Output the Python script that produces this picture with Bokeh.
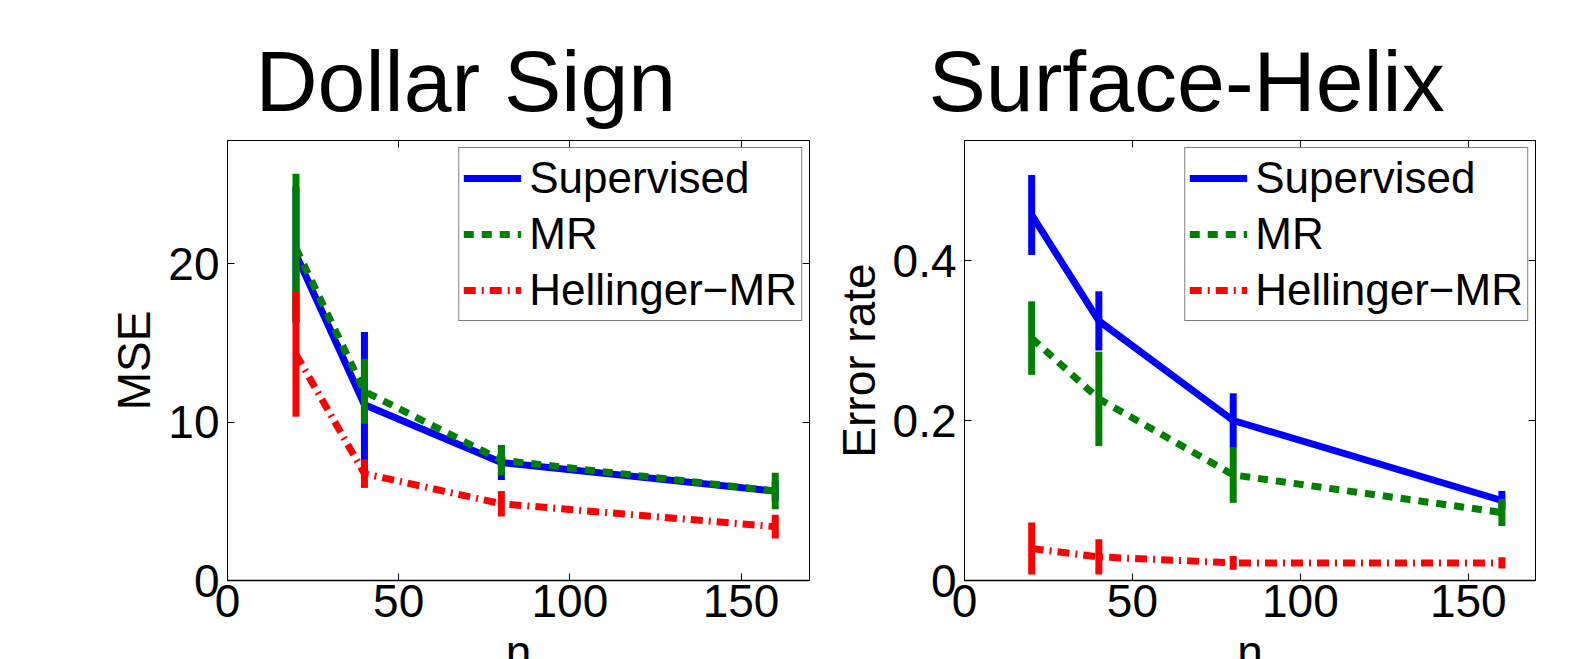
from bokeh.plotting import figure
from bokeh.layouts import row
from bokeh.models import Range1d, FixedTicker, LinearAxis
from bokeh.embed import file_html
from bokeh.resources import INLINE
import numpy as np

# ---- data ----
n = [20, 40, 80, 160]
series_names = ["Supervised", "MR", "Hellinger\u2212MR"]

# Dollar Sign (MSE)
ds_sup_mean = [20.6, 11.1, 7.45, 5.65]
ds_sup_err = [4.3, 4.6, 1.1, 0.65]
ds_mr_mean = [21.0, 11.95, 7.6, 5.65]
ds_mr_err = [4.7, 2.05, 0.95, 1.15]
ds_hel_mean = [14.3, 6.75, 4.85, 3.4]
ds_hel_err = [3.95, 0.9, 0.8, 0.75]

# Surface-Helix (Error rate)
sh_sup_mean = [0.457, 0.3245, 0.2, 0.1]
sh_sup_err = [0.05, 0.037, 0.034, 0.012]
sh_mr_mean = [0.303, 0.227, 0.132, 0.085]
sh_mr_err = [0.046, 0.059, 0.035, 0.017]
sh_hel_mean = [0.040, 0.0295, 0.022, 0.022]
sh_hel_err = [0.0325, 0.022, 0.0085, 0.007]

x_ticks = [0, 50, 100, 150]
ds_y_ticks = [0, 10, 20]
ds_y_labels = ["0", "10", "20"]
sh_y_ticks = [0, 0.2, 0.4]
sh_y_labels = ["0", "0.2", "0.4"]

FONT = "Liberation Sans"
colors = ["#0000ff", "#008000", "#ff0000"]
dashes = ["solid", "10 8", "12 6 2 6"]

FIG_H = 720


def make_panel(title, ylabel, means, errs, yrange, yticks, ylabels,
               width, border_left, border_right, title_offset):
    p = figure(width=width, height=FIG_H, output_backend="svg", toolbar_location=None,
               x_range=Range1d(0, 170), y_range=Range1d(*yrange),
               min_border_left=border_left, min_border_right=border_right,
               min_border_top=140, min_border_bottom=FIG_H - 580)
    p.background_fill_color = "white"
    p.border_fill_color = "white"
    p.outline_line_color = "black"
    p.outline_line_width = 1
    p.xgrid.visible = False
    p.ygrid.visible = False

    p.title.text = title
    p.title.align = "left"
    p.title.offset = title_offset
    p.title.text_font = FONT
    p.title.text_font_size = "86px"
    p.title.text_font_style = "normal"
    p.title.text_color = "black"
    p.title.standoff = 23

    overrides = {t: l for t, l in zip(yticks, ylabels)}

    for ax in [p.xaxis[0], p.yaxis[0]]:
        ax.major_label_text_font = FONT
        ax.major_label_text_font_size = "46px"
        ax.major_label_text_color = "black"
        ax.major_tick_in = 7
        ax.major_tick_out = 0
        ax.minor_tick_in = 0
        ax.minor_tick_out = 0
        ax.axis_line_color = "black"
        ax.major_tick_line_color = "black"
        ax.axis_label_text_font = FONT
        ax.axis_label_text_font_size = "46px"
        ax.axis_label_text_font_style = "normal"
        ax.axis_label_text_color = "black"

    p.xaxis[0].ticker = FixedTicker(ticks=x_ticks)
    p.xaxis[0].major_label_standoff = 4
    p.xaxis[0].axis_line_width = 1.5
    p.xaxis[0].axis_label = "n"
    p.xaxis[0].axis_label_standoff = 6
    p.yaxis[0].ticker = FixedTicker(ticks=yticks)
    p.yaxis[0].major_label_overrides = overrides
    p.yaxis[0].major_label_standoff = 8
    p.yaxis[0].axis_label = ylabel
    p.yaxis[0].axis_label_standoff = 5

    # top and right tick-only axes (box with inward ticks)
    top = LinearAxis(ticker=FixedTicker(ticks=x_ticks), major_label_text_font_size="1px",
                     major_label_text_color=None,
                     major_tick_in=7, major_tick_out=0, minor_tick_in=0, minor_tick_out=0,
                     major_label_standoff=0, axis_line_color="black")
    right = LinearAxis(ticker=FixedTicker(ticks=yticks), major_label_text_font_size="1px",
                       major_label_text_color=None,
                       major_tick_in=7, major_tick_out=0, minor_tick_in=0, minor_tick_out=0,
                       major_label_standoff=0, axis_line_color="black")
    p.add_layout(top, "above")
    p.add_layout(right, "right")

    for name, mean, err, c, d in zip(series_names, means, errs, colors, dashes):
        m = np.array(mean)
        e = np.array(err)
        p.line(n, mean, line_color=c, line_width=7, line_dash=d, legend_label=name)
        p.segment(x0=n, y0=m - e, x1=n, y1=m + e, line_color=c, line_width=7)

    lg = p.legend[0]
    lg.location = "top_right"
    lg.label_text_font = FONT
    lg.label_text_font_size = "44px"
    lg.label_text_color = "black"
    lg.glyph_width = 58
    lg.glyph_height = 52
    lg.label_height = 52
    lg.label_standoff = 8
    lg.spacing = 4
    lg.padding = 4
    lg.margin = 7
    lg.border_line_color = "black"
    lg.border_line_width = 1
    lg.background_fill_color = "white"
    lg.background_fill_alpha = 1.0
    return p


p1 = make_panel("Dollar Sign", "MSE",
                [ds_sup_mean, ds_mr_mean, ds_hel_mean],
                [ds_sup_err, ds_mr_err, ds_hel_err],
                (0, 27.8), ds_y_ticks, ds_y_labels,
                width=820, border_left=227, border_right=11, title_offset=28)
p2 = make_panel("Surface-Helix", "Error rate",
                [sh_sup_mean, sh_mr_mean, sh_hel_mean],
                [sh_sup_err, sh_mr_err, sh_hel_err],
                (0, 0.55), sh_y_ticks, sh_y_labels,
                width=776, border_left=144, border_right=61, title_offset=-36)

layout = row(p1, p2)
html = file_html(layout, INLINE)
html = html.replace("</head>", "<style>html,body{margin:0;padding:0;overflow:hidden;}</style></head>", 1)
open("out.html", "w").write(html)
